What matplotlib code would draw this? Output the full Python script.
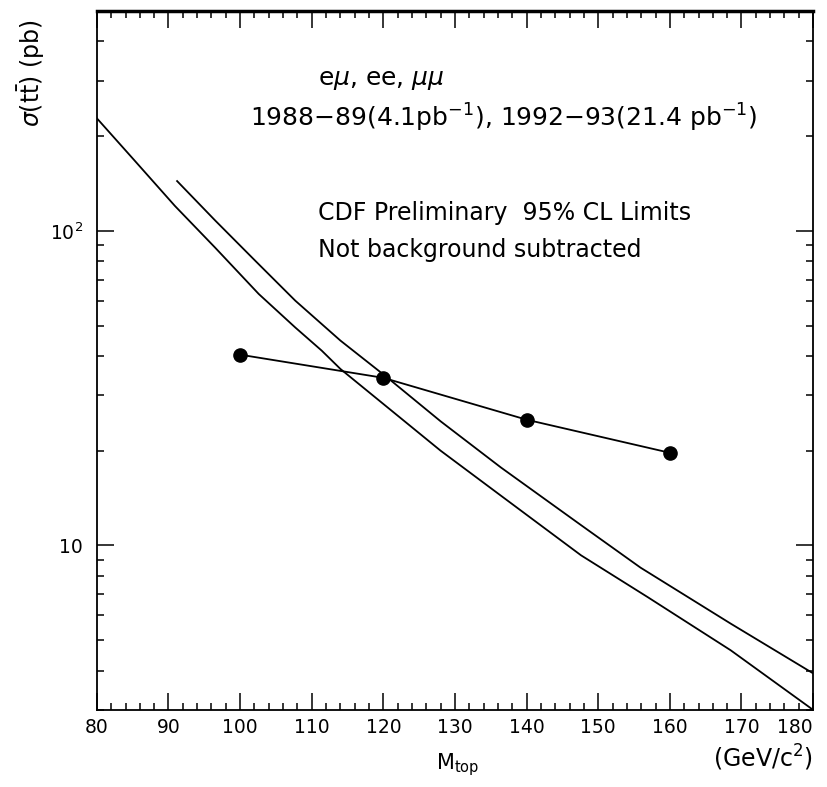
import numpy as np
import matplotlib.pyplot as plt
from matplotlib.ticker import FixedLocator, NullFormatter, LogLocator

# theory curves
m_lower = [80, 85.3, 90.9, 96.5, 102.6, 107.7, 111.4, 114.0, 128.0, 136.4,
           147.6, 156.9, 168.5, 180]
sig_lower = [228, 167, 120, 88.5, 63, 49.3, 41.6, 36.4, 20.0, 14.4,
             9.3, 6.85, 4.64, 3.0]

m_upper = [91.2, 96.5, 102.1, 107.7, 114.0, 120.6, 128.0, 136.4, 147.6,
           155.9, 168.5, 180]
sig_upper = [144, 108, 80.4, 60, 44.8, 34.1, 24.8, 17.7, 11.6,
             8.5, 5.64, 3.92]

# 95% CL limits
m_limit = [100, 120, 140, 160]
sig_limit = [40.4, 34.1, 25.1, 19.7]

x_ticks = [80, 90, 100, 110, 120, 130, 140, 150, 160, 170, 180]
x_ticklabels = ["80", "90", "100", "110", "120", "130", "140", "150", "160", "170", "180"]
y_ticks = [10, 100]
y_ticklabels = ["10", "$10^{2}$"]

fig = plt.figure(figsize=(8.28, 7.87), dpi=100)
ax = fig.add_axes([0.117, 0.098, 0.865, 0.888])

ax.plot(m_lower, sig_lower, color="black", lw=1.3)
ax.plot(m_upper, sig_upper, color="black", lw=1.3)
ax.plot(m_limit, sig_limit, color="black", lw=1.3, marker="o", ms=9.5)

ax.set_yscale("log")
ax.set_xlim(80, 180)
ax.set_ylim(3, 500)

ax.xaxis.set_major_locator(FixedLocator(x_ticks))
ax.set_xticklabels(x_ticklabels, fontsize=13.5)
ax.xaxis.set_minor_locator(FixedLocator(np.arange(80, 181, 2)))
ax.yaxis.set_major_locator(FixedLocator(y_ticks))
ax.set_yticklabels(y_ticklabels, fontsize=13.5)
ax.yaxis.set_minor_locator(LogLocator(base=10, subs=np.arange(2, 10)))
ax.yaxis.set_minor_formatter(NullFormatter())

# the 180 label sits at the figure edge, keep it inside
ax.get_xticklabels()[-1].set_horizontalalignment("right")

ax.tick_params(which="both", direction="in", top=True, right=True, width=1.1)
ax.tick_params(which="major", length=12)
ax.tick_params(which="minor", length=5)
ax.tick_params(axis="x", pad=6)
ax.tick_params(axis="y", pad=10)

for side in ["left", "bottom", "right"]:
    ax.spines[side].set_linewidth(1.3)
ax.spines["top"].set_linewidth(2.5)

# annotations
ax.text(0.309, 0.901, r"e$\mu$, ee, $\mu\mu$", transform=ax.transAxes,
        fontsize=18, va="center")
ax.text(0.214, 0.847, r"1988$-$89(4.1pb$^{-1}$), 1992$-$93(21.4 pb$^{-1}$)",
        transform=ax.transAxes, fontsize=18, va="center")
ax.text(0.309, 0.711, "CDF Preliminary  95% CL Limits", transform=ax.transAxes,
        fontsize=17, va="center")
ax.text(0.309, 0.658, "Not background subtracted", transform=ax.transAxes,
        fontsize=17, va="center")

fig.text(0.038, 0.907, r"$\sigma$(t$\bar{\rm t}$) (pb)", rotation=90,
         fontsize=17, ha="center", va="center")
fig.text(0.553, 0.012, r"M$_{\rm top}$", fontsize=15, ha="center", va="bottom")
fig.text(0.982, 0.037, r"(GeV/c$^{2}$)", fontsize=17, ha="right", va="center")

plt.savefig("out.png", dpi=100)
plt.close()
